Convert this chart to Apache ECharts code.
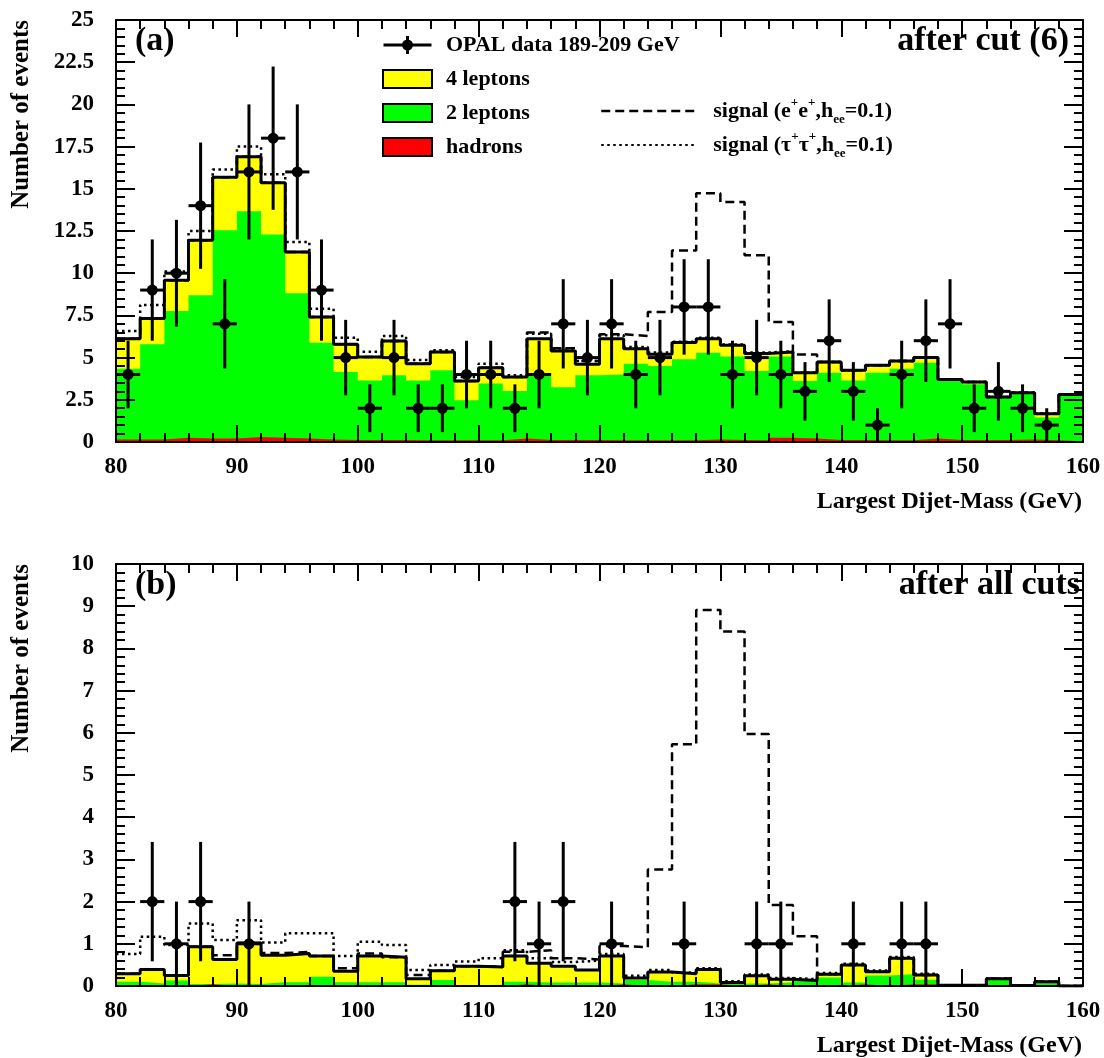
<!DOCTYPE html>
<html><head><meta charset="utf-8">
<script src="https://cdn.jsdelivr.net/npm/echarts@6/dist/echarts.min.js"></script>
<style>html,body{margin:0;padding:0;background:#fff}#c{width:1104px;height:1058px}</style>
</head><body><div id="c"></div>
<script>
// ---------- data ----------
const binEdges = [80,82,84,86,88,90,92,94,96,98,100,102,104,106,108,110,112,114,116,118,120,122,124,126,128,130,132,134,136,138,140,142,144,146,148,150,152,154,156,158,160];

// panel (a): after cut (6)
const dataA    = [4,9,10,14,7,16,18,16,9,5,2,5,2,2,4,4,2,4,7,5,7,4,5,8,8,4,5,4,3,6,3,1,4,6,7,2,3,2,1,0];
const hadronsA = [0.15,0.15,0.25,0.2,0.2,0.3,0.25,0.2,0.15,0.12,0.12,0.12,0.1,0.1,0.1,0.1,0.2,0.12,0.12,0.12,0.1,0.1,0.1,0.1,0.15,0.12,0.1,0.25,0.2,0.12,0.12,0.1,0.1,0.2,0.12,0.12,0.12,0.15,0.1,0.05];
const twoLepA  = [4.19,5.64,7.51,8.49,12.34,13.37,12.05,8.61,5.73,4.03,3.53,3.83,3.55,4.15,2.37,3.36,2.82,3.83,3.12,3.83,3.9,4.54,4.4,4.8,5.14,4.94,4.1,4.81,3.41,3.98,3.53,4.0,4.24,4.5,3.49,3.3,2.48,2.71,1.35,2.7];
const fourLepA = [1.78,1.52,1.82,3.26,3.14,3.23,3.06,2.45,1.52,1.64,1.39,2.03,0.99,1.08,1.14,0.94,0.83,2.17,2.15,0.65,2.12,0.89,0.7,0.99,0.83,0.67,1.05,0.27,0.49,0.64,0.6,0.44,0.46,0.3,0.1,0.13,0.07,0.06,0.23,0.07];
const sigEEA   = [0,0,0,0,0,0,0,0,0,0,0,0,0,0,0,0,0,0.36,0.16,0.2,0.26,0.75,2.5,5.46,8.61,8.49,5.81,1.78,1.09,0,0,0,0,0,0,0,0,0,0,0];
const sigTauA  = [0.46,0.81,0.52,0.55,0.47,0.6,0.5,0.59,0.5,0.39,0.31,0.3,0.22,0.1,0.24,0.24,0.1,0.3,0.15,0.2,0.2,0.1,0.1,0.05,0.05,0.05,0.05,0.05,0,0,0,0,0,0,0,0,0,0,0,0];

// panel (b): after all cuts
const dataB    = [0,2,1,2,0,1,0,0,0,0,0,0,0,0,0,0,2,1,2,0,1,0,0,1,0,0,1,1,0,0,1,0,1,1,0,0,0,0,0,0];
const hadronsB = [0,0,0,0.04,0,0,0,0,0,0,0,0,0,0,0,0,0.04,0,0,0,0.04,0,0,0.04,0.04,0,0.04,0,0,0,0.04,0,0.04,0.04,0,0,0,0,0,0];
const twoLepB  = [0.1,0.06,0.13,0.01,0.06,0.05,0.09,0.09,0.22,0.09,0.09,0.09,0.03,0.14,0.02,0.03,0.06,0.08,0.08,0.08,0.02,0.14,0.1,0.06,0.02,0.06,0.02,0.08,0.13,0.2,0.04,0.25,0.24,0.11,0.02,0.02,0.17,0.01,0.1,0];
const fourLepB = [0.19,0.33,0.12,0.88,0.57,0.97,0.64,0.68,0.49,0.26,0.62,0.59,0.14,0.22,0.45,0.42,0.61,0.46,0.39,0.3,0.65,0.05,0.23,0.19,0.33,0.02,0.18,0.08,0,0.08,0.42,0.09,0.38,0.11,0,0,0,0,0,0];
const sigEEB   = [0,0,0,0,0.1,0,0.05,0.04,0,0.07,0.06,0,0.09,0,0,0,0.1,0.31,0.19,0.25,0.24,0.73,2.43,5.44,8.52,8.32,5.73,1.76,1.05,0,0,0,0,0,0,0,0,0,0,0];
const sigTauB  = [0.47,0.78,0.72,0.55,0.46,0.54,0.3,0.48,0.54,0.36,0.34,0.29,0.21,0.14,0.11,0.21,0.14,0.12,0.1,0.22,0.05,0.05,0.05,0.03,0.03,0.03,0.03,0.03,0.03,0.03,0.03,0.03,0.03,0.03,0,0,0,0,0,0];

const yMaxA = 25, yIntA = 2.5, yMaxB = 10, yIntB = 1;

// ---------- helpers ----------
const FONT = '"Liberation Serif","Times New Roman",serif';
function add() { const arrs = arguments; return arrs[0].map((v,i)=>{let s=0; for (const a of arrs) s+=a[i]; return +s.toFixed(4);}); }
function step(vals) { const d = vals.map((v,i)=>[binEdges[i], v]); d.push([binEdges[binEdges.length-1], vals[vals.length-1]]); return d; }
function points(counts) {
  const d = [];
  counts.forEach((n,i)=>{ if (n>0) d.push([(binEdges[i]+binEdges[i+1])/2, n, Math.sqrt(n), binEdges[i], binEdges[i+1]]); });
  return d;
}
const NAMES = {data:'OPAL data 189-209 GeV', four:'4 leptons', two:'2 leptons', had:'hadrons', ee:'signal (e+e+,hee=0.1)', tau:'signal (τ+τ+,hee=0.1)'};

function panelSeries(g, had, two, four, sEE, sTau, counts) {
  const total = add(had, two, four);
  const base = {type:'line', xAxisIndex:2*g, yAxisIndex:2*g, step:'end', symbol:'none', showSymbol:false, silent:true, animation:false, emphasis:{disabled:true}};
  const area = (name, vals, color) => Object.assign({}, base, {name, data:step(vals), itemStyle:{color}, lineStyle:{width:0, opacity:0}, areaStyle:{color, opacity:1}});
  return [
    area(NAMES.four, total, '#ffff00'),
    area(NAMES.two, add(had, two), '#00ff00'),
    area(NAMES.had, had, '#ff0000'),
    Object.assign({}, base, {name:NAMES.tau, data:step(add(total, sTau)), itemStyle:{color:'#000'}, lineStyle:{color:'#000', width:2.5, type:[2.5,3.5]}}),
    Object.assign({}, base, {name:NAMES.ee, data:step(add(total, sEE)), itemStyle:{color:'#000'}, lineStyle:{color:'#000', width:2.5, type:[9,5]}}),
    Object.assign({}, base, {name:'total', data:step(total), lineStyle:{color:'#000', width:3}}),
    {
      type:'custom', name:NAMES.data, xAxisIndex:2*g, yAxisIndex:2*g, silent:true, animation:false,
      itemStyle:{color:'#000'}, encode:{x:0, y:1}, data:points(counts), z:5,
      renderItem:function(params, api){
        const x = api.value(0), y = api.value(1), e = api.value(2), x0 = api.value(3), x1 = api.value(4);
        const c = api.coord([x, y]), lo = api.coord([x, y-e]), hi = api.coord([x, y+e]);
        const l = api.coord([x0, y]), r = api.coord([x1, y]);
        return {type:'group', children:[
          {type:'line', shape:{x1:c[0], y1:lo[1], x2:c[0], y2:hi[1]}, style:{stroke:'#000', lineWidth:3}},
          {type:'line', shape:{x1:l[0], y1:c[1], x2:r[0], y2:c[1]}, style:{stroke:'#000', lineWidth:3}},
          {type:'circle', shape:{cx:c[0], cy:c[1], r:5.5}, style:{fill:'#000'}}
        ]};
      }
    }
  ];
}

function xAxes(g) {
  const common = {type:'value', gridIndex:g, min:80, max:160, interval:10, z:10,
    axisLine:{show:true, onZero:false, lineStyle:{color:'#000', width:2}},
    axisTick:{show:true, inside:true, length:17, lineStyle:{color:'#000', width:2}},
    minorTick:{show:true, splitNumber:5, length:9, lineStyle:{color:'#000', width:2}},
    splitLine:{show:false}, minorSplitLine:{show:false}};
  return [
    Object.assign({}, common, {position:'bottom', axisLabel:{show:true, margin:14, color:'#000', fontFamily:FONT, fontWeight:'bold', fontSize:23}}),
    Object.assign({}, common, {position:'top', axisLabel:{show:false}})
  ];
}
function yAxes(g, max, interval) {
  const common = {type:'value', gridIndex:g, min:0, max:max, interval:interval, z:10,
    axisLine:{show:true, onZero:false, lineStyle:{color:'#000', width:2}},
    axisTick:{show:true, inside:true, length:19, lineStyle:{color:'#000', width:2}},
    minorTick:{show:true, splitNumber:5, length:9, lineStyle:{color:'#000', width:2}},
    splitLine:{show:false}, minorSplitLine:{show:false}};
  return [
    Object.assign({}, common, {position:'left', axisLabel:{show:true, margin:22, color:'#000', fontFamily:FONT, fontWeight:'bold', fontSize:23}}),
    Object.assign({}, common, {position:'right', axisLabel:{show:false}})
  ];
}

const markerPath = 'path://M0,7.5h48v3h-48z M22.5,0h3v18h-3z M18.5,9a5.5,5.5 0 1,1 11,0a5.5,5.5 0 1,1 -11,0z';
const legendText = {fontFamily:FONT, fontWeight:'bold', fontSize:22, color:'#000', lineHeight:30};

const chart = echarts.init(document.getElementById('c'), null, {renderer:'canvas'});
chart.setOption({
  animation:false,
  backgroundColor:'#fff',
  grid:[
    {left:116, top:20, right:21, height:422, show:false},
    {left:116, top:564, right:21, height:422, show:false}
  ],
  xAxis: xAxes(0).concat(xAxes(1)),
  yAxis: yAxes(0, yMaxA, yIntA).concat(yAxes(1, yMaxB, yIntB)),
  legend:[
    {orient:'vertical', left:382, top:30, padding:0, itemWidth:49, itemHeight:18, itemGap:4, selectedMode:false,
     textStyle:Object.assign({}, legendText, {padding:[0,0,0,9]}),
     data:[
       {name:NAMES.data, icon:markerPath, itemStyle:{color:'#000', borderWidth:0}},
       {name:NAMES.four, icon:'rect', itemStyle:{color:'#ffff00', borderColor:'#000', borderWidth:2}},
       {name:NAMES.two, icon:'rect', itemStyle:{color:'#00ff00', borderColor:'#000', borderWidth:2}},
       {name:NAMES.had, icon:'rect', itemStyle:{color:'#ff0000', borderColor:'#000', borderWidth:2}}
     ]},
    {orient:'vertical', left:600, top:96, padding:0, itemWidth:95, itemHeight:18, itemGap:4, selectedMode:false,
     textStyle:Object.assign({}, legendText, {padding:[0,0,0,12], rich:{
       n:{fontFamily:FONT, fontWeight:'bold', fontSize:22, color:'#000', lineHeight:30, verticalAlign:'middle'},
       sup:{fontFamily:FONT, fontWeight:'bold', fontSize:13, color:'#000', lineHeight:14, verticalAlign:'top'},
       sub:{fontFamily:FONT, fontWeight:'bold', fontSize:13, color:'#000', lineHeight:10, verticalAlign:'bottom'}
     }}),
     formatter:function(name){
       if (name === NAMES.ee) return '{n|signal (e}{sup|+}{n|e}{sup|+}{n|,h}{sub|ee}{n|=0.1)}';
       return '{n|signal (τ}{sup|+}{n|τ}{sup|+}{n|,h}{sub|ee}{n|=0.1)}';
     },
     data:[
       {name:NAMES.ee, itemStyle:{opacity:0}, lineStyle:{width:2.5}},
       {name:NAMES.tau, itemStyle:{opacity:0}, lineStyle:{width:2}}
     ]}
  ],
  graphic:[
    {type:'text', x:22, y:20, rotation:Math.PI/2, style:{text:'Number of events', font:'bold 25px '+FONT, fill:'#000', align:'right', verticalAlign:'middle'}},
    {type:'text', x:22, y:564, rotation:Math.PI/2, style:{text:'Number of events', font:'bold 25px '+FONT, fill:'#000', align:'right', verticalAlign:'middle'}},
    {type:'text', x:1082, y:502, style:{text:'Largest Dijet-Mass (GeV)', font:'bold 24px '+FONT, fill:'#000', align:'right', verticalAlign:'middle'}},
    {type:'text', x:1082, y:1046, style:{text:'Largest Dijet-Mass (GeV)', font:'bold 24px '+FONT, fill:'#000', align:'right', verticalAlign:'middle'}},
    {type:'text', x:135, y:41, z:20, style:{text:'(a)', font:'bold 34px '+FONT, fill:'#000', align:'left', verticalAlign:'middle'}},
    {type:'text', x:1069, y:41, z:20, style:{text:'after cut (6)', font:'bold 34px '+FONT, fill:'#000', align:'right', verticalAlign:'middle'}},
    {type:'text', x:135, y:585, z:20, style:{text:'(b)', font:'bold 34px '+FONT, fill:'#000', align:'left', verticalAlign:'middle'}},
    {type:'text', x:1080, y:585, z:20, style:{text:'after all cuts', font:'bold 34px '+FONT, fill:'#000', align:'right', verticalAlign:'middle'}}
  ],
  series: panelSeries(0, hadronsA, twoLepA, fourLepA, sigEEA, sigTauA, dataA)
          .concat(panelSeries(1, hadronsB, twoLepB, fourLepB, sigEEB, sigTauB, dataB))
});
</script></body></html>
